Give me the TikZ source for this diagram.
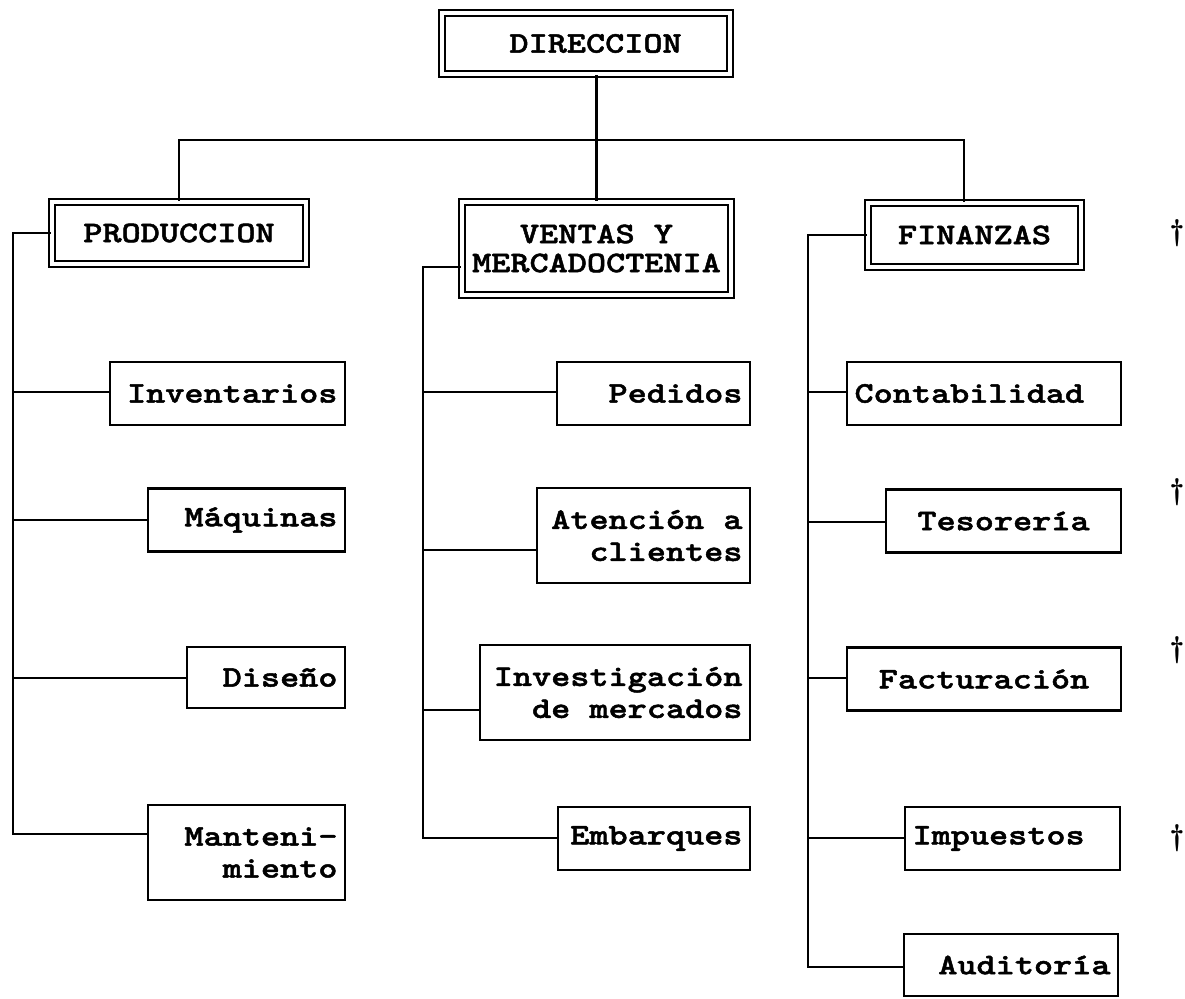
\documentclass[tikz,border=0pt]{standalone}
\usepackage{fontspec}
\usepackage{tikz}
\newfontfamily\cajafont{lmmonolt10-bold}[Extension=.otf, FakeStretch=1.22, FakeBold=1.6, WordSpace={1,0,0}]
\newcommand{\letra}{\cajafont\fontsize{17}{18.2}\selectfont}
\newcommand{\esp}{\phantom{n}}

\begin{document}
\begin{tikzpicture}[x=0.02cm, y=-0.02cm,
    jefe/.style={draw, double, double distance=0.075cm, line width=0.045cm, font=\letra, align=center, inner sep=0pt},
    caja/.style={draw, line width=0.05cm, font=\letra, align=right, inner xsep=0.15cm, inner ysep=0pt, minimum height=1.26cm},
    linea/.style={line width=0.05cm},
    marca/.style={font=\bfseries\fontsize{17}{17}\selectfont, inner sep=0pt}]
            \useasboundingbox (0,0) rectangle (1185,998);

            \node[jefe, minimum width=5.77cm, minimum height=1.23cm] (dir) at (586,43.5) {\esp DIRECCION};
            \node[jefe, minimum width=5.09cm, minimum height=1.25cm] (prod) at (179,233) {PRODUCCION};
            \node[jefe, minimum width=5.39cm, minimum height=1.87cm, font=\cajafont\fontsize{17}{16.5}\selectfont] (ventas) at (596.5,248.5) {VENTAS\esp Y\\MERCADOCTENIA};
            \node[jefe, minimum width=4.27cm, minimum height=1.29cm] (fin) at (974.5,235) {FINANZAS};

            \coordinate (busL) at (prod.north |- 0,140);
            \coordinate (busR) at (964,140);
            \draw[linea] (ventas.north) -- (ventas.north |- dir.south);
            \draw[linea] (busL |- prod.north) -- (busL) -- (busR) -- (busR |- fin.north);

            \node[caja, text width=4.40cm] (inv) at (227.5,393.5) {Inventarios};
            \node[caja, text width=3.64cm] (maq) at (246.5,520) {Máquinas};
            \node[caja, text width=2.86cm, minimum height=1.22cm] (dis) at (266,677.5) {Diseño};
            \node[caja, text width=3.64cm, minimum height=1.90cm] (mant) at (246.5,852.5) {Manteni-\\miento};

            \node[caja, text width=3.56cm] (ped) at (653.5,393.5) {Pedidos};
            \node[caja, text width=3.96cm, minimum height=1.90cm] (aten) at (643.5,535.5) {Atención\esp a\\clientes};
            \node[caja, text width=5.10cm, minimum height=1.90cm] (invm) at (615,692.5) {Investigación\\de\esp mercados};
            \node[caja, text width=3.54cm] (emb) at (654,838.5) {Embarques};

            \node[caja, text width=5.18cm, align=left] (cont) at (984,393.5) {Contabilidad};
            \node[caja, text width=4.40cm, align=center] (teso) at (1003.5,521) {Tesorería};
            \node[caja, text width=5.18cm, align=center] (fact) at (984,679) {Facturación};
            \node[caja, text width=4.00cm, align=left] (imp) at (1012.5,838.5) {Impuestos};
            \node[caja, text width=3.98cm, minimum height=1.24cm] (aud) at (1011,965) {Auditoría};

            \coordinate (p1) at (13,392);
            \coordinate (p2) at (13,520);
            \coordinate (p3) at (13,678);
            \coordinate (p4) at (13,834);
            \draw[linea] (prod.west) -| (p4) -- (p4 -| mant.west);
            \draw[linea] (p1) -- (p1 -| inv.west);
            \draw[linea] (p2) -- (p2 -| maq.west);
            \draw[linea] (p3) -- (p3 -| dis.west);

            \coordinate (v0) at (423,267);
            \coordinate (v1) at (423,392);
            \coordinate (v2) at (423,550);
            \coordinate (v3) at (423,710);
            \coordinate (v4) at (423,838);
            \draw[linea] (v0 -| ventas.west) -- (v0) -- (v4) -- (v4 -| emb.west);
            \draw[linea] (v1) -- (v1 -| ped.west);
            \draw[linea] (v2) -- (v2 -| aten.west);
            \draw[linea] (v3) -- (v3 -| invm.west);

            \coordinate (f1) at (808,392);
            \coordinate (f2) at (808,522);
            \coordinate (f3) at (808,678);
            \coordinate (f4) at (808,838);
            \coordinate (f5) at (808,967);
            \draw[linea] (fin.west) -| (f5) -- (f5 -| aud.west);
            \draw[linea] (f1) -- (f1 -| cont.west);
            \draw[linea] (f2) -- (f2 -| teso.west);
            \draw[linea] (f3) -- (f3 -| fact.west);
            \draw[linea] (f4) -- (f4 -| imp.west);

            \node[marca] (marca1) at (1177,233) {†};
            \node[marca] (marca2) at (1177,492) {†};
            \node[marca] (marca3) at (1177,650) {†};
            \node[marca] (marca4) at (1177,838) {†};
        \end{tikzpicture}
\end{document}
